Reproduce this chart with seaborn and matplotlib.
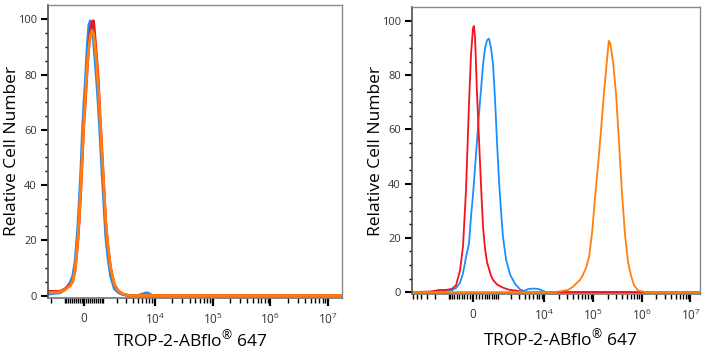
import matplotlib
matplotlib.use("Agg")
import matplotlib.pyplot as plt
import seaborn as sns

# left panel: three overlapping histograms on a shared intensity grid
x_left = [-2300, -1700, -1300, -1000, -700, -550, -430, -300, -230, -150, -75, 0,
          75, 150, 230, 300, 380, 460, 540, 620, 700, 800, 900, 1000, 1150, 1300,
          1500, 1800, 2200, 2700, 3500, 5000, 6500, 7200, 8000, 9000, 15000,
          1e5, 1e6, 1e7, 1.7e7]
red_left = [1.5, 1.5, 1.5, 2.3, 3.8, 5, 9, 19, 27, 38, 51, 63,
            72, 82, 91, 96, 99, 99.5, 93, 86, 79, 66, 54, 43, 27, 18,
            10, 4, 1.5, 0.4, 0, 0, 0, 0, 0, 0, 0,
            0, 0, 0, 0]
blue_left = [0.5, 0.8, 1, 2, 4.5, 7, 12, 24, 33, 45, 59, 70,
             79, 90, 98, 99.5, 97, 92, 85, 78, 70, 59, 47, 37, 22, 14,
             7, 2.5, 1, 0.3, 0, 0, 0.8, 1.0, 0.6, 0, 0,
             0, 0, 0, 0]
orange_left = [1, 1.2, 1.3, 2, 3.5, 5, 9, 20, 28, 40, 52, 64,
               73, 83, 90, 94, 96, 95, 90, 84, 76, 65, 53, 43, 27, 18,
               10, 4, 1.5, 0.5, 0, 0, 0, 0, 0, 0, 0,
               0, 0, 0, 0]

# right panel: each histogram on its own grid
x_red_right = [-6220, -2620, -1590, -1155, -812, -625, -457, -343, -235, -133, -66, 0,
               30, 66, 133, 201, 271, 343, 418, 497, 669, 764, 975, 1216, 1590, 1946,
               2500, 3185, 3857, 1e5, 1.57e7]
red_right = [0, 0.2, 0.8, 0.8, 1.2, 2.5, 8, 17, 38, 70, 88, 97.5,
             98.2, 94, 73, 56, 39, 24, 16, 11, 6, 4.5, 2.8, 2, 1.2, 0.8,
             0.6, 0.3, 0, 0, 0]
x_blue_right = [-6220, -2620, -1590, -812, -625, -457, -343, -235, -133, -66, 0, 66,
                133, 201, 271, 343, 418, 497, 580, 669, 764, 865, 975, 1090, 1216, 1350,
                1590, 1946, 2500, 3185, 3857, 4676, 5929, 7518, 9093, 10990, 1.57e7]
blue_right = [0, 0, 0.3, 0.7, 1.5, 3.5, 7, 13, 18, 28, 36, 46,
              56, 66, 75, 84, 90, 93, 93.5, 90, 84, 71, 55, 41, 30, 20.5,
              12, 6.5, 3, 1, 0.4, 1.1, 1.3, 1.2, 0.6, 0, 0]
x_orange_right = [-6220, 16800, 23400, 31100, 39300, 47500, 54700, 63100, 72600, 83700,
                  96400, 111000, 127900, 147400, 169800, 195600, 212000, 225400, 259600,
                  299000, 344000, 397000, 457000, 527000, 607000, 699000, 845000,
                  1.175e6, 1.57e7]
orange_right = [0, 0, 0.4, 0.8, 2, 3.5, 4.5, 6.5, 9, 13,
                22, 35, 47, 60, 74, 86, 92.7, 92, 85,
                73, 55, 36, 21, 11, 6, 2.5, 0.6,
                0, 0]

x_major = [0, 1e4, 1e5, 1e6, 1e7]
x_major_labels = ["0", "$10^{4}$", "$10^{5}$", "$10^{6}$", "$10^{7}$"]
y_major = [0, 20, 40, 60, 80, 100]

RED = "#f5121c"
BLUE = "#1a8fff"
ORANGE = "#ff7f0e"

sns.set_theme(style="ticks")
plt.rcParams["font.family"] = ["Open Sans", "DejaVu Sans"]
plt.rcParams["mathtext.fontset"] = "custom"
plt.rcParams["mathtext.rm"] = "Open Sans"
plt.rcParams["mathtext.it"] = "Open Sans:italic"
plt.rcParams["mathtext.bf"] = "Open Sans:bold"

fig = plt.figure(figsize=(7.07, 3.5), dpi=100)
ax1 = fig.add_axes([48 / 707, 52 / 350, 294 / 707, 293 / 350])
ax2 = fig.add_axes([412 / 707, 56 / 350, 288 / 707, 287 / 350])

minor = []
for d in [100, 1000]:
    for k in range(1, 10):
        minor += [k * d, -k * d]
for d in [1e4, 1e5, 1e6]:
    for k in range(2, 10):
        minor.append(k * d)


def style_axis(ax, lin_width, xlim, ylim, ylab_x, xlab_xy):
    ax.set_xscale("asinh", linear_width=lin_width)
    ax.set_xlim(*xlim)
    ax.set_ylim(*ylim)
    ax.set_xticks(x_major)
    ax.set_xticklabels(x_major_labels)
    ax.set_xticks([m for m in minor if xlim[0] < m < xlim[1]], minor=True)
    ax.set_yticks(y_major)
    ax.set_yticks(range(5, 105, 5), minor=True)
    ax.tick_params(axis="x", which="major", length=6, width=1.6, color="black",
                   pad=4, labelsize=8.5, labelcolor="#333333")
    ax.tick_params(axis="x", which="minor", length=3.5, width=1.0, color="black")
    ax.tick_params(axis="y", which="major", length=5, width=1.5, color="black",
                   pad=3, labelsize=8, labelcolor="#333333")
    ax.tick_params(axis="y", which="minor", length=2.5, width=1.0, color="black")
    for side in ["top", "right"]:
        ax.spines[side].set_visible(True)
        ax.spines[side].set_color("#8a8a8a")
        ax.spines[side].set_linewidth(1.0)
    ax.spines["left"].set_color("#555555")
    ax.spines["bottom"].set_color("#777777")
    ax.set_ylabel("Relative Cell Number", fontsize=12.5, color="black", va="center")
    ax.yaxis.set_label_coords(ylab_x, 0.5)
    ax.set_xlabel("TROP-2-ABflo$^{®}$ 647", fontsize=12.5, color="black", va="center")
    ax.xaxis.set_label_coords(*xlab_xy)
    ax.grid(False)


sns.lineplot(x=x_left, y=blue_left, ax=ax1, color=BLUE, lw=2.0, estimator=None, sort=False)
sns.lineplot(x=x_left, y=red_left, ax=ax1, color=RED, lw=2.0, estimator=None, sort=False)
sns.lineplot(x=x_left, y=orange_left, ax=ax1, color=ORANGE, lw=2.0, estimator=None, sort=False)
style_axis(ax1, 1180, (-2340, 1.74e7), (-0.9, 105.2), -0.122, (0.483, -0.142))

sns.lineplot(x=x_blue_right, y=blue_right, ax=ax2, color=BLUE, lw=1.3, estimator=None, sort=False)
sns.lineplot(x=x_red_right, y=red_right, ax=ax2, color=RED, lw=1.3, estimator=None, sort=False)
sns.lineplot(x=x_orange_right, y=orange_right, ax=ax2, color=ORANGE, lw=1.3, estimator=None, sort=False)
style_axis(ax2, 700, (-6220, 1.57e7), (-0.7, 105.2), -0.124, (0.514, -0.157))

fig.savefig("out.png", dpi=100)
